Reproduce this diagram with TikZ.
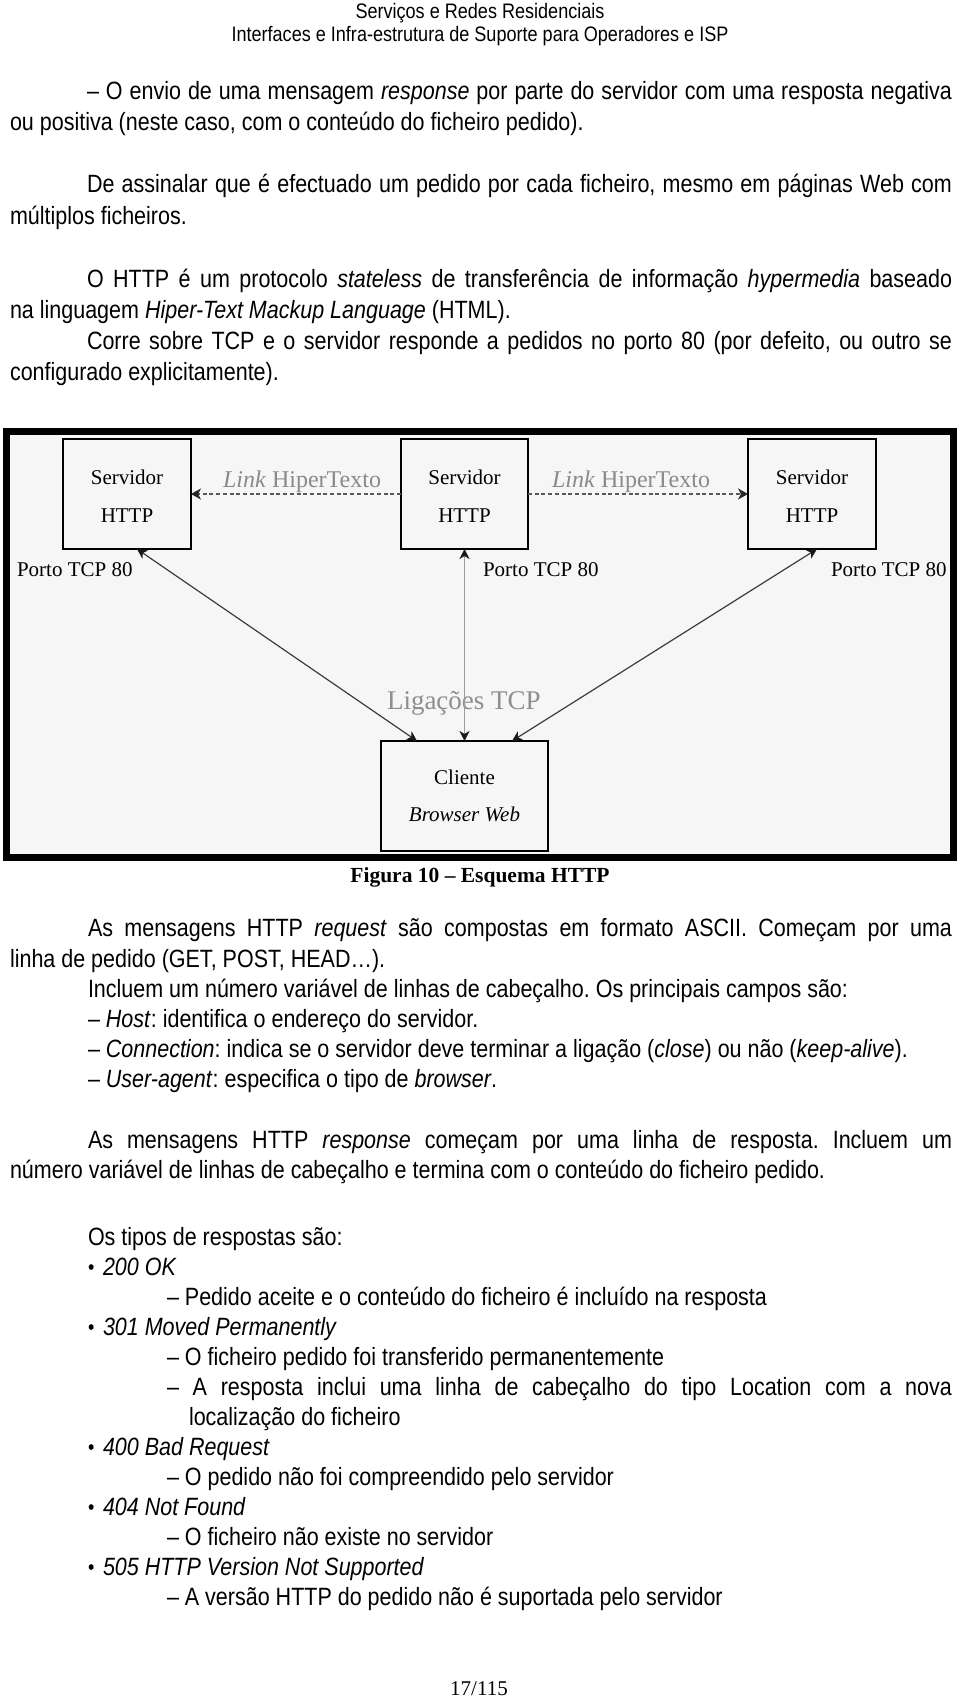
\documentclass[tikz,border=0pt]{standalone}
\usepackage{fontspec}
\setmainfont{Liberation Sans}[FakeStretch=0.86]
\newfontfamily\figfont{Liberation Serif}
\usetikzlibrary{arrows.meta,calc}
\definecolor{framefill}{HTML}{F6F6F6}
\definecolor{linkgray}{HTML}{8A8A8A}
\definecolor{tcpgray}{HTML}{8E8E8E}
\definecolor{vgray}{HTML}{9C9C9C}
\definecolor{dgray}{HTML}{3C3C3C}
\newcommand{\smallbul}{\makebox[15pt][l]{\fontsize{21}{21}\selectfont\raisebox{1pt}{•}}}
\begin{document}
\begin{tikzpicture}[x=1pt,y=-1pt,
  body/.style={anchor=base west,inner sep=0pt,outer sep=0pt,font=\fontsize{25}{30}\selectfont\frenchspacing},
  hdr/.style={anchor=base,inner sep=0pt,outer sep=0pt,font=\fontsize{21}{25}\selectfont},
  boxnode/.style={draw=black,line width=1.3pt,fill=framefill,inner sep=0pt,outer sep=0pt,align=center,font=\figfont\fontsize{21}{38}\selectfont},
  fig/.style={anchor=base west,inner sep=0pt,outer sep=0pt,font=\figfont\fontsize{21}{25}\selectfont},
  linklbl/.style={anchor=base west,inner sep=0pt,outer sep=0pt,text=linkgray,font=\figfont\fontsize{24}{28}\selectfont},
  dashlink/.style={draw=dgray!85,line width=1.3pt,dash pattern=on 4pt off 2.7pt},
  tcpline/.style={draw=dgray,line width=1.2pt},
]
\useasboundingbox (0,0) rectangle (960,1699);

% header
\node[hdr] (h1) at (480,19) {Serviços e Redes Residenciais};
\node[hdr] (h2) at (480,42) {Interfaces e Infra-estrutura de Suporte para Operadores e ISP};

% upper text
\node[body] (l1) at (87,100) {\makebox[865pt][s]{– O envio de uma mensagem \textit{response} por parte do servidor com uma resposta negativa}};
\node[body] (l2) at (10,131) {ou positiva (neste caso, com o conteúdo do ficheiro pedido).};
\node[body] (l3) at (87,193) {\makebox[865pt][s]{De assinalar que é efectuado um pedido por cada ficheiro, mesmo em páginas Web com}};
\node[body] (l4) at (10,224) {múltiplos ficheiros.};
\node[body] (l5) at (87,287) {\makebox[865pt][s]{O HTTP é um protocolo \textit{stateless} de transferência de informação \textit{hypermedia} baseado}};
\node[body] (l6) at (10,318) {na linguagem \textit{Hiper-Text Mackup Language} (HTML).};
\node[body] (l7) at (87,349) {\makebox[865pt][s]{Corre sobre TCP e o servidor responde a pedidos no porto 80 (por defeito, ou outro se}};
\node[body] (l8) at (10,380) {configurado explicitamente).};

% figure frame
\node[draw=black,line width=7pt,fill=framefill,minimum width=947pt,minimum height=426pt,inner sep=0pt,outer sep=0pt] (frame) at (480,644.5) {};

% boxes
\node[boxnode,minimum width=128pt,minimum height=110pt] (s1) at (127,494) {\rule{0pt}{19.5pt}Servidor\\HTTP};
\node[boxnode,minimum width=127pt,minimum height=110pt] (s2) at (464.5,494) {\rule{0pt}{19.5pt}Servidor\\HTTP};
\node[boxnode,minimum width=128pt,minimum height=110pt] (s3) at (812,494) {\rule{0pt}{19.5pt}Servidor\\HTTP};
\node[boxnode,minimum width=167pt,minimum height=110pt,font=\figfont\fontsize{21}{37}\selectfont] (cl) at (464.5,796) {Cliente\\\textit{Browser Web}};

% labels
\node[linklbl] (lk1) at (223,487) {\textit{Link} HiperTexto};
\node[linklbl] (lk2) at (552,487) {\textit{Link} HiperTexto};
\node[fig] (p1) at (17,576) {Porto TCP 80};
\node[fig] (p2) at (483,576) {Porto TCP 80};
\node[fig] (p3) at (831,576) {Porto TCP 80};
\node[anchor=base west,inner sep=0pt,outer sep=0pt,text=tcpgray,font=\figfont\fontsize{27}{30}\selectfont] (lig) at (387,709) {Ligações TCP};

% connectors
\draw[dashlink,-{Stealth[length=10pt,width=11pt,inset=3pt,color=black!85]}] (s2.west) -- (s1.east);
\draw[dashlink,-{Stealth[length=10pt,width=11pt,inset=3pt,color=black!85]}] (s2.east) -- (s3.west);
\draw[tcpline,{Stealth[length=10pt,width=10pt,inset=3pt,color=black!90]}-{Stealth[length=10pt,width=10pt,inset=3pt,color=black!90]}] ($(s1.south)+(10,0)$) -- ($(cl.north)+(-47.5,0)$);
\draw[tcpline,{Stealth[length=10pt,width=10pt,inset=3pt,color=black!90]}-{Stealth[length=10pt,width=10pt,inset=3pt,color=black!90]}] ($(s3.south)+(5,0)$) -- ($(cl.north)+(47.5,0)$);
\draw[draw=vgray,line width=1.8pt,{Stealth[length=10pt,width=10pt,inset=3pt,color=black!90]}-{Stealth[length=10pt,width=10pt,inset=3pt,color=black!90]}] (s2.south) -- (cl.north);

% caption
\node[anchor=base,inner sep=0pt,outer sep=0pt,font=\figfont\bfseries\fontsize{21.5}{25}\selectfont] (cap) at (480,882) {Figura 10 – Esquema HTTP};

% lower text
\node[body] (m1) at (88,936) {\makebox[864pt][s]{As mensagens HTTP \textit{request} são compostas em formato ASCII. Começam por uma}};
\node[body] (m2) at (10,967) {linha de pedido (GET, POST, HEAD…).};
\node[body] (m3) at (88,997) {Incluem um número variável de linhas de cabeçalho. Os principais campos são:};
\node[body] (m4) at (88,1027) {– \textit{Host}: identifica o endereço do servidor.};
\node[body] (m5) at (88,1057) {– \textit{Connection}: indica se o servidor deve terminar a ligação (\textit{close}) ou não (\textit{keep-alive}).};
\node[body] (m6) at (88,1087) {– \textit{User-agent}: especifica o tipo de \textit{browser}.};
\node[body] (m7) at (88,1148) {\makebox[864pt][s]{As mensagens HTTP \textit{response} começam por uma linha de resposta. Incluem um}};
\node[body] (m8) at (10,1178) {número variável de linhas de cabeçalho e termina com o conteúdo do ficheiro pedido.};

\node[body] (r0) at (88,1245) {Os tipos de respostas são:};
\node[body] (r1) at (88,1275) {\smallbul\textit{200 OK}};
\node[body] (r2) at (167,1305) {– Pedido aceite e o conteúdo do ficheiro é incluído na resposta};
\node[body] (r3) at (88,1335) {\smallbul\textit{301 Moved Permanently}};
\node[body] (r4) at (167,1365) {– O ficheiro pedido foi transferido permanentemente};
\node[body] (r5) at (167,1395) {\makebox[785pt][s]{– A resposta inclui uma linha de cabeçalho do tipo Location com a nova}};
\node[body] (r6) at (189,1425) {localização do ficheiro};
\node[body] (r7) at (88,1455) {\smallbul\textit{400 Bad Request}};
\node[body] (r8) at (167,1485) {– O pedido não foi compreendido pelo servidor};
\node[body] (r9) at (88,1515) {\smallbul\textit{404 Not Found}};
\node[body] (r10) at (167,1545) {– O ficheiro não existe no servidor};
\node[body] (r11) at (88,1575) {\smallbul\textit{505 HTTP Version Not Supported}};
\node[body] (r12) at (167,1605) {– A versão HTTP do pedido não é suportada pelo servidor};

\node[anchor=base,inner sep=0pt,outer sep=0pt,font=\figfont\fontsize{21}{25}\selectfont] (pg) at (479,1695) {17/115};
\end{tikzpicture}
\end{document}
